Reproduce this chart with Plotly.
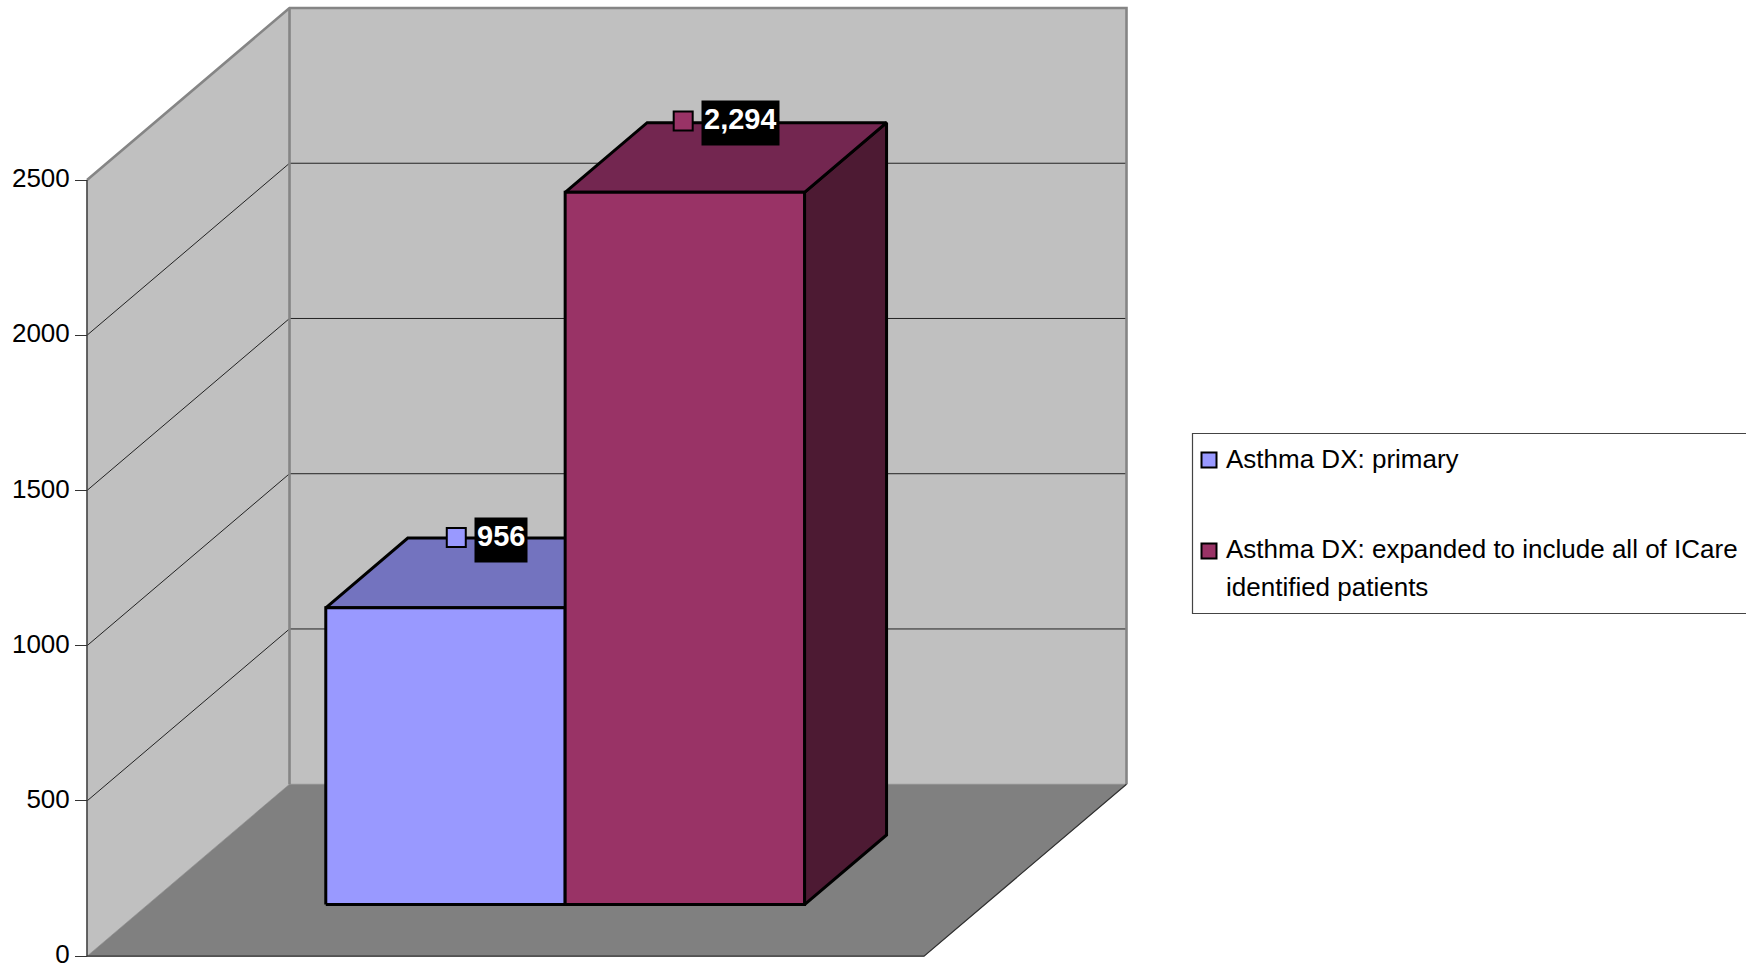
import plotly.graph_objects as go

# Chart data
series_names = ["Asthma DX: primary", "Asthma DX: expanded to include all of ICare identified patients"]
legend_lines = [["Asthma DX: primary"], ["Asthma DX: expanded to include all of ICare", "identified patients"]]
series_values = [956, 2294]
value_labels = ["956", "2,294"]
tick_values = [0, 500, 1000, 1500, 2000, 2500]
front_colors = ["#9999FF", "#993366"]
top_colors = ["#7373BF", "#732650"]
side_colors = ["#4D4D80", "#4D1A33"]

# Page and plot geometry
WIDTH, HEIGHT = 1746, 966
FLOOR_LEFT, FLOOR_RIGHT = 87.0, 924.0
PLOT_BASE, PLOT_TOP = 956.2, 180.0
AXIS_MAX = tick_values[-1]
UNITS_PER_PX = AXIS_MAX / (PLOT_BASE - PLOT_TOP)
FLOOR_WIDTH = FLOOR_RIGHT - FLOOR_LEFT

# Oblique projection: one unit of depth moves a point right and up the page
DEPTH_X = 202.5 / FLOOR_WIDTH
DEPTH_V = 172.0 * UNITS_PER_PX

# Column layout along the category axis and through the chart's depth
GROUP_START, BAR_WIDTH = 0.2127, 0.2860
BAR_DEPTH_FRONT, BAR_DEPTH_BACK = 0.30, 0.705
label_depth = [0.708, 0.715]
label_anchor_fraction = [0.20, 0.142]


def page_x(px):
    return (px - FLOOR_LEFT) / FLOOR_WIDTH


def page_y(py):
    return (PLOT_BASE - py) * UNITS_PER_PX


def project(x, v, depth):
    return x + depth * DEPTH_X, v + depth * DEPTH_V


def face(corners, fill, line_color=None, line_width=0):
    pts = [project(*c) for c in corners] + [project(*corners[0])]
    return go.Scatter(
        x=[p[0] for p in pts], y=[p[1] for p in pts],
        mode="lines", fill="toself", fillcolor=fill,
        line=dict(color=line_color or fill, width=line_width or 0.5),
        hoverinfo="skip", showlegend=False,
    )


def edge(corners, color, width):
    pts = [project(*c) for c in corners]
    return go.Scatter(
        x=[p[0] for p in pts], y=[p[1] for p in pts],
        mode="lines", line=dict(color=color, width=width),
        hoverinfo="skip", showlegend=False,
    )


fig = go.Figure()

# Walls and floor
fig.add_trace(face([(0, 0, 0), (0, AXIS_MAX, 0), (0, AXIS_MAX, 1), (0, 0, 1)], "#C0C0C0"))
fig.add_trace(face([(0, 0, 1), (0, AXIS_MAX, 1), (1, AXIS_MAX, 1), (1, 0, 1)], "#C0C0C0"))
fig.add_trace(face([(0, 0, 0), (1, 0, 0), (1, 0, 1), (0, 0, 1)], "#808080"))

# Gridlines run along the side wall and across the back wall
for v in tick_values[1:-1]:
    fig.add_trace(edge([(0, v, 0), (0, v, 1), (1, v, 1)], "#222222", 1))

# Wall outlines
fig.add_trace(edge([(0, AXIS_MAX, 0), (0, AXIS_MAX, 1), (1, AXIS_MAX, 1), (1, 0, 1)], "#858585", 2.6))
fig.add_trace(edge([(0, 0, 1), (0, AXIS_MAX, 1)], "#858585", 2.6))
fig.add_trace(edge([(0, 0, 0), (0, AXIS_MAX, 0)], "#444444", 1.6))
fig.add_trace(edge([(0, 0, 0), (1, 0, 0), (1, 0, 1)], "#303030", 1.2))

# Columns, drawn left to right so each one covers the previous side face
for i, value in enumerate(series_values):
    x0 = GROUP_START + i * BAR_WIDTH
    x1 = x0 + BAR_WIDTH
    d0, d1 = BAR_DEPTH_FRONT, BAR_DEPTH_BACK
    fig.add_trace(face([(x1, 0, d0), (x1, value, d0), (x1, value, d1), (x1, 0, d1)],
                       side_colors[i], "#000000", 3))
    fig.add_trace(face([(x0, value, d0), (x1, value, d0), (x1, value, d1), (x0, value, d1)],
                       top_colors[i], "#000000", 3))
    fig.add_trace(face([(x0, 0, d0), (x1, 0, d0), (x1, value, d0), (x0, value, d0)],
                       front_colors[i], "#000000", 3))

# Value labels: a colour key on the column's rear top edge with a black tag beside it
annotations = []
for i, value in enumerate(series_values):
    x0 = GROUP_START + i * BAR_WIDTH
    mx, my = project(x0 + label_anchor_fraction[i] * BAR_WIDTH, value, label_depth[i])
    fig.add_trace(go.Scatter(
        x=[mx], y=[my], mode="markers",
        marker=dict(symbol="square", size=19, color=front_colors[i],
                    line=dict(color="#000000", width=2)),
        hoverinfo="skip", showlegend=False,
    ))
    annotations.append(dict(
        x=mx, y=my, xref="x", yref="y", text=value_labels[i], showarrow=False,
        xanchor="left", yanchor="middle", xshift=17.5, yshift=-2, borderpad=2, height=40,
        valign="top", bgcolor="#000000",
        font=dict(family="Liberation Sans", size=29, color="#FFFFFF", weight="bold"),
    ))

# Legend panel, open on the right where it runs off the page
LEG_L, LEG_T, LEG_B = 1192.5, 433.5, 613.5
left, top, bottom = LEG_L / WIDTH, 1 - LEG_T / HEIGHT, 1 - LEG_B / HEIGHT
shapes = [dict(
    type="path", xref="paper", yref="paper",
    path=f"M 1.01 {top} L {left} {top} L {left} {bottom} L 1.01 {bottom}",
    line=dict(color="#444444", width=1.2),
)]

legend_rows = [(460, [459]), (551, [549, 587])]
for i, (swatch_y, line_ys) in enumerate(legend_rows):
    fig.add_trace(go.Scatter(
        x=[page_x(1209)], y=[page_y(swatch_y)], mode="markers",
        marker=dict(symbol="square", size=15, color=front_colors[i],
                    line=dict(color="#000000", width=2)),
        hoverinfo="skip", showlegend=False,
    ))
    for text, ly in zip(legend_lines[i], line_ys):
        annotations.append(dict(
            x=1225 / WIDTH, y=1 - ly / HEIGHT, xref="paper", yref="paper", text=text,
            showarrow=False, xanchor="left", yanchor="middle", borderpad=0,
            font=dict(family="Liberation Sans", size=26, color="#000000"),
        ))

fig.update_layout(
    width=WIDTH, height=HEIGHT, margin=dict(l=0, r=0, t=0, b=0),
    paper_bgcolor="#FFFFFF", plot_bgcolor="rgba(0,0,0,0)", showlegend=False,
    xaxis=dict(domain=[0, 1], range=[page_x(0), page_x(WIDTH)], visible=False,
               fixedrange=True, automargin=False),
    yaxis=dict(
        domain=[0, 1], range=[page_y(HEIGHT), page_y(0)], fixedrange=True, automargin=False,
        anchor="free", position=FLOOR_LEFT / WIDTH, ticklabeloverflow="allow", ticklabelshift=-2,
        tickmode="array", tickvals=tick_values, ticktext=[str(t) for t in tick_values],
        ticks="outside", ticklen=12, tickwidth=1.3, tickcolor="#333333",
        showline=False, showgrid=False, zeroline=False,
        tickfont=dict(family="Liberation Sans", size=26, color="#000000"),
    ),
    annotations=annotations, shapes=shapes,
)

fig.write_html("out.html", config=dict(displayModeBar=False))
